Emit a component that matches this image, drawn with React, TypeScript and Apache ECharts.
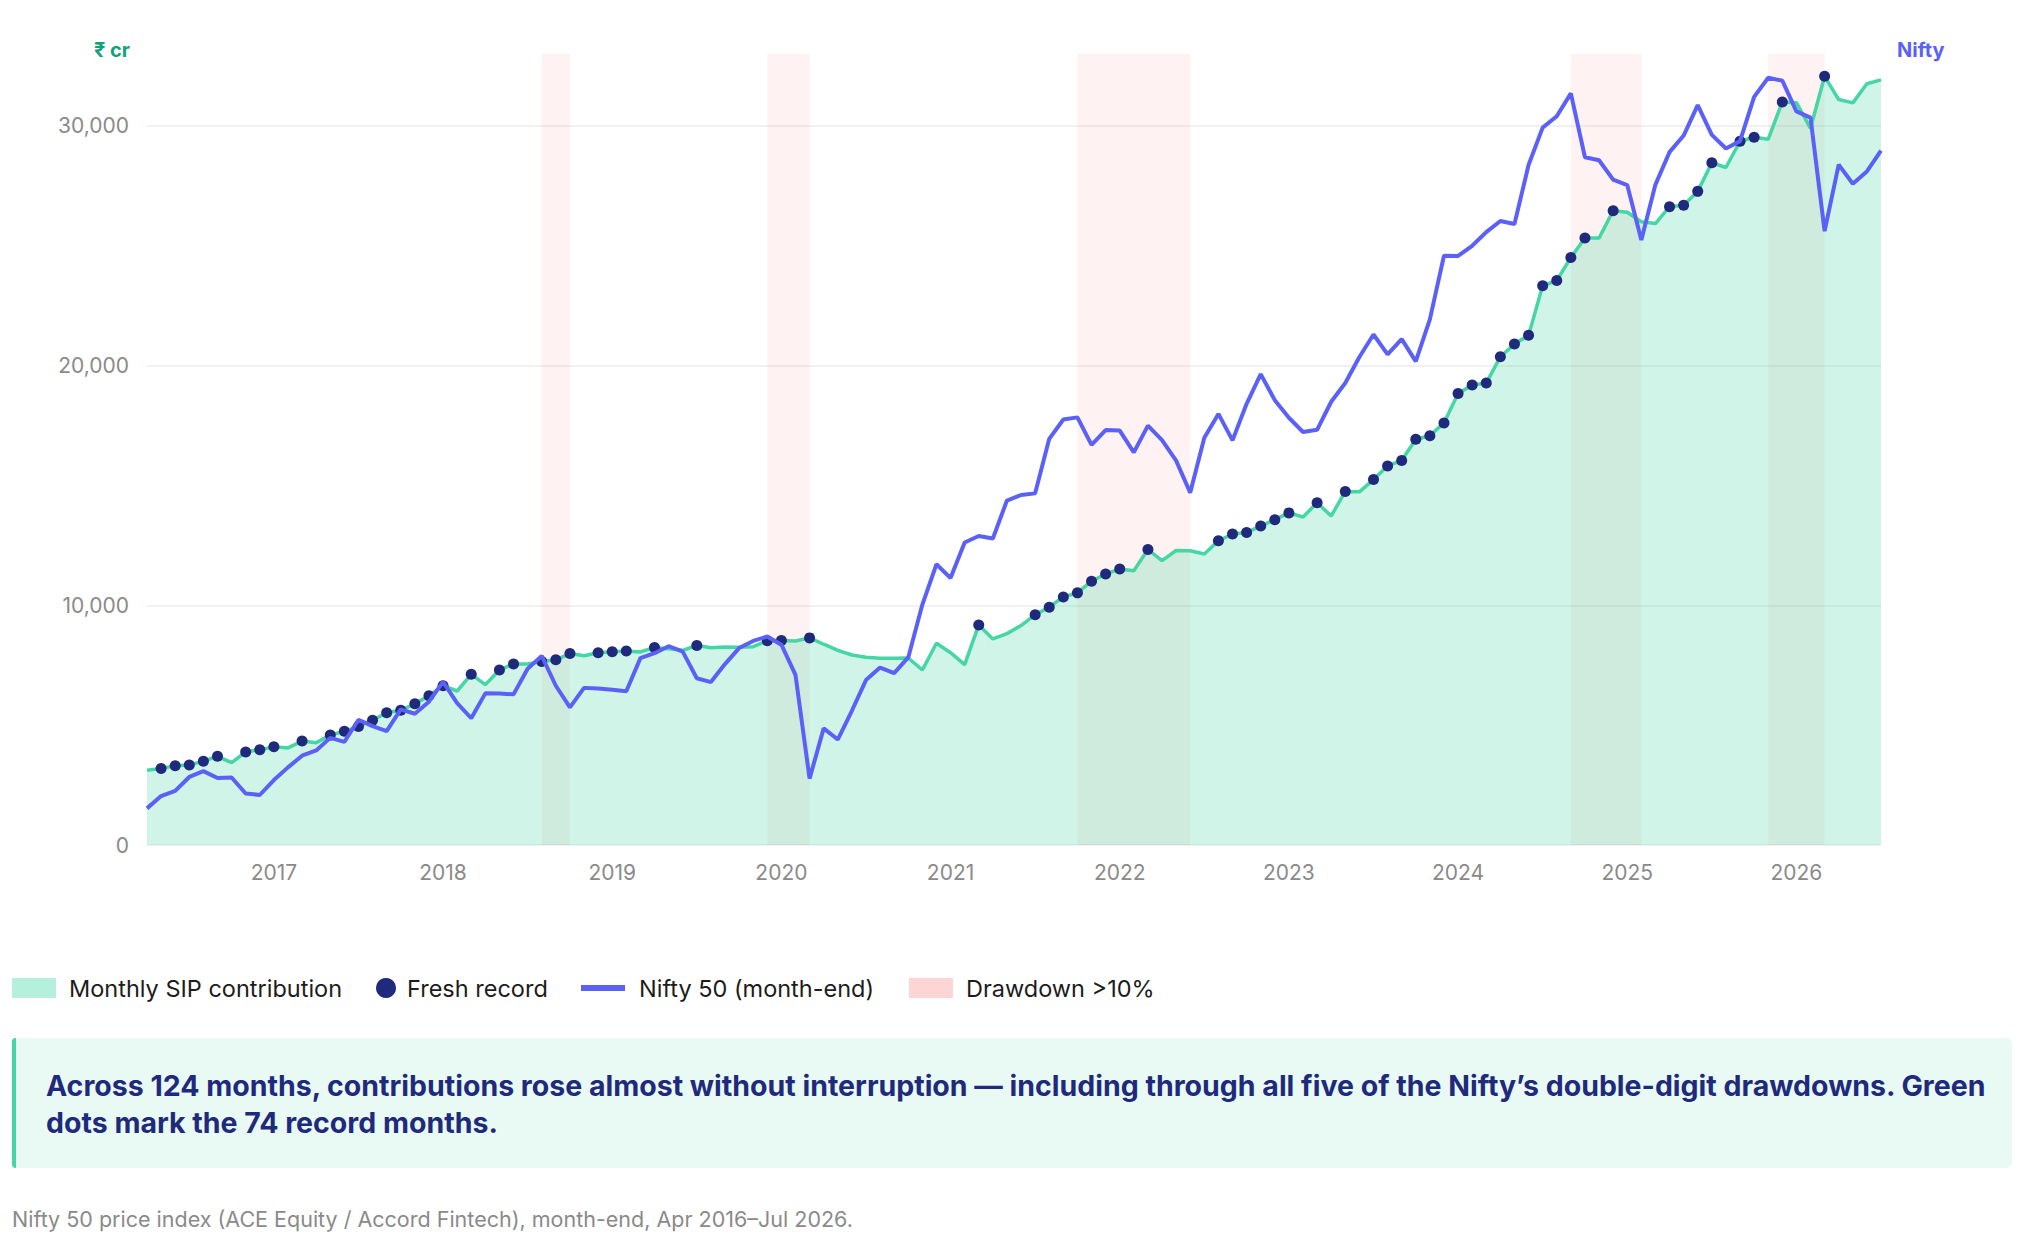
import React, { useEffect, useRef } from 'react';
import * as echarts from 'echarts';

// months Apr 2016 .. Jul 2026, keyed "YYYY-MM"
const FIRST_YEAR = 2016;
const FIRST_MONTH = 4;
const MONTH_COUNT = 124;
const months: string[] = [];
for (let i = 0; i < MONTH_COUNT; i++) {
  const m = FIRST_MONTH - 1 + i;
  months.push(`${FIRST_YEAR + Math.floor(m / 12)}-${String((m % 12) + 1).padStart(2, '0')}`);
}

// year labels shown under the January of each year
const yearTicks = ['2017', '2018', '2019', '2020', '2021', '2022', '2023', '2024', '2025', '2026'];

// monthly SIP contribution, ₹ crore
const sipContribution = [
  3122, 3189, 3310, 3334, 3497, 3698, 3434, 3884, 3973,
  4095, 4050, 4335, 4269, 4584, 4744, 4947, 5206, 5516, 5621, 5893, 6222,
  6644, 6425, 7119, 6690, 7304, 7554, 7554, 7658, 7727, 7985, 7897, 8022,
  8064, 8095, 8055, 8238, 8183, 8122, 8324, 8231, 8263, 8246, 8273, 8518,
  8532, 8513, 8641, 8376, 8123, 7927, 7831, 7792, 7788, 7800, 7302, 8418,
  8023, 7528, 9182, 8596, 8819, 9156, 9609, 9923, 10351, 10519, 11005, 11305,
  11517, 11438, 12328, 11863, 12286, 12276, 12140, 12693, 12976, 13041, 13306, 13573,
  13856, 13686, 14276, 13728, 14749, 14734, 15245, 15814, 16042, 16928, 17073, 17610,
  18838, 19187, 19271, 20371, 20904, 21262, 23332, 23547, 24509, 25323, 25320, 26459,
  26400, 25999, 25926, 26632, 26688, 27269, 28464, 28265, 29361, 29529, 29445, 31002,
  30970, 29900, 32070, 31100, 30960, 31760, 31920,
];

// Nifty 50 month-end close
const nifty = [
  7850, 8160, 8288, 8639, 8786, 8611, 8626, 8224, 8186,
  8561, 8880, 9174, 9304, 9621, 9521, 10077, 9918, 9789, 10335, 10227, 10531,
  11028, 10493, 10114, 10739, 10736, 10714, 11357, 11681, 10930, 10387, 10877, 10863,
  10831, 10793, 11624, 11748, 11923, 11789, 11118, 11023, 11474, 11877, 12056, 12168,
  11962, 11202, 8598, 9860, 9580, 10302, 11073, 11388, 11248, 11642, 12969, 13982,
  13635, 14529, 14691, 14631, 15583, 15722, 15763, 17132, 17618, 17672, 16983, 17354,
  17340, 16794, 17465, 17103, 16585, 15780, 17158, 17759, 17094, 18012, 18758, 18105,
  17662, 17304, 17360, 18065, 18534, 19189, 19754, 19254, 19638, 19080, 20133, 21731,
  21726, 21983, 22327, 22605, 22531, 24011, 24951, 25236, 25811, 24205, 24131, 23645,
  23508, 22125, 23519, 24334, 24751, 25517, 24768, 24427, 24611, 25722, 26203, 26130,
  25360, 25200, 22350, 24020, 23540, 23850, 24370,
];

// Nifty falls of more than 10%, peak month to trough month
const drawdowns = [
  ['2018-08', '2018-10'],
  ['2019-12', '2020-03'],
  ['2021-10', '2022-06'],
  ['2024-09', '2025-02'],
  ['2025-11', '2026-03'],
];

// a month is a fresh record when it beats every earlier month
const records: [string, number][] = [];
let best = sipContribution[0];
sipContribution.forEach((v, i) => {
  if (i > 0 && v > best) records.push([months[i], v]);
  best = Math.max(best, v);
});

const FONT = 'Inter, "Noto Sans", sans-serif';
const GREEN = '#45d6a5';
const NAVY = '#1f2a7c';
const BLUE = '#5b61f6';
const GREY = '#8a8a8a';

const legendItem = (name: string, left: number, icon: string, color: string, w: number, h: number, gap: number) => ({
  left,
  top: 976,
  padding: 0,
  itemWidth: w,
  itemHeight: h,
  textStyle: { fontSize: 23.5, color: '#1c1c1c', fontFamily: FONT, padding: [0, 0, 0, gap] },
  data: [{ name, icon, itemStyle: { color, borderWidth: 0, opacity: 1 } }],
});

const App: React.FC = () => {
  const chartRef = useRef<HTMLDivElement>(null);

  useEffect(() => {
    document.body.style.margin = '0';
    const chart = echarts.init(chartRef.current!, null, { renderer: 'svg' });

    const option = {
      animation: false,
      textStyle: { fontFamily: FONT },
      grid: { left: 147, right: 141, top: 54, bottom: 403 },
      tooltip: { trigger: 'axis' },
      legend: [
        legendItem('Monthly SIP contribution', 12, 'rect', '#b4f0dc', 44, 20, 8),
        legendItem('Fresh record', 376, 'circle', NAVY, 20, 20, 6),
        legendItem('Nifty 50 (month-end)', 581, 'rect', BLUE, 44, 6, 9),
        legendItem('Drawdown >10%', 909, 'rect', '#fdd5d5', 44, 20, 8),
      ],
      xAxis: {
        type: 'category',
        data: months,
        boundaryGap: false,
        axisLine: { show: false },
        axisTick: { show: false },
        splitLine: { show: false },
        axisLabel: {
          interval: (_: number, v: string) => v.endsWith('-01') && yearTicks.includes(v.slice(0, 4)),
          formatter: (v: string) => v.slice(0, 4),
          color: GREY,
          fontSize: 21,
          margin: 17,
        },
      },
      yAxis: [
        {
          type: 'value',
          min: 0,
          max: 33000,
          interval: 10000,
          name: '₹ cr',
          nameLocation: 'end',
          nameGap: 4,
          nameTextStyle: {
            color: '#12a37b',
            fontWeight: 'bold',
            fontSize: 20,
            align: 'right',
            verticalAlign: 'middle',
            padding: [0, 17, 0, 0],
          },
          axisLine: { show: false },
          axisTick: { show: false },
          axisLabel: {
            color: GREY,
            fontSize: 21,
            margin: 18,
            showMaxLabel: false,
            formatter: (v: number) => v.toLocaleString('en-US'),
          },
          splitLine: { showMaxLine: false, lineStyle: { color: '#ececec', width: 1.5 } },
        },
        {
          type: 'value',
          position: 'right',
          min: 6930,
          max: 26800,
          name: 'Nifty',
          nameLocation: 'end',
          nameGap: 4,
          nameTextStyle: {
            color: BLUE,
            fontWeight: 'bold',
            fontSize: 20,
            align: 'left',
            verticalAlign: 'middle',
            padding: [0, 0, 0, 16],
          },
          axisLine: { show: false },
          axisTick: { show: false },
          axisLabel: { show: false },
          splitLine: { show: false },
        },
      ],
      series: [
        {
          name: 'Drawdown >10%',
          type: 'line',
          z: 1,
          data: [],
          itemStyle: { color: '#fdd5d5' },
          markArea: {
            silent: true,
            itemStyle: { color: 'rgba(239,68,68,0.07)', opacity: 1 },
            data: drawdowns.map(([from, to]) => [{ xAxis: from }, { xAxis: to }]),
          },
        },
        {
          name: 'Monthly SIP contribution',
          type: 'line',
          z: 2,
          data: sipContribution,
          symbol: 'none',
          itemStyle: { color: GREEN },
          lineStyle: { color: GREEN, width: 3.5 },
          areaStyle: { color: GREEN, opacity: 0.25 },
        },
        {
          name: 'Fresh record',
          type: 'scatter',
          z: 4,
          data: records,
          symbolSize: 11,
          itemStyle: { color: NAVY, opacity: 1 },
        },
        {
          name: 'Nifty 50 (month-end)',
          type: 'line',
          z: 5,
          yAxisIndex: 1,
          data: nifty,
          symbol: 'none',
          itemStyle: { color: BLUE },
          lineStyle: { color: BLUE, width: 4 },
        },
      ],
      graphic: [
        {
          type: 'rect',
          shape: { x: 12, y: 1038, width: 2000, height: 130, r: [0, 6, 6, 0] },
          style: { fill: '#e8faf3' },
        },
        {
          type: 'rect',
          shape: { x: 12, y: 1038, width: 4, height: 130, r: [4, 0, 0, 4] },
          style: { fill: GREEN },
        },
        {
          type: 'text',
          x: 46,
          y: 1067,
          style: {
            text:
              `Across ${months.length} months, contributions rose almost without interruption — including through all five of the Nifty’s double-digit drawdowns. Green\n` +
              `dots mark the ${records.length} record months.`,
            fill: NAVY,
            fontFamily: FONT,
            fontWeight: 'bold',
            fontSize: 28.5,
            lineHeight: 37,
            verticalAlign: 'top',
          },
        },
        {
          type: 'text',
          x: 12,
          y: 1219,
          style: {
            text: 'Nifty 50 price index (ACE Equity / Accord Fintech), month-end, Apr 2016–Jul 2026.',
            fill: GREY,
            fontFamily: FONT,
            fontSize: 21.5,
            verticalAlign: 'middle',
          },
        },
      ],
    };

    chart.setOption(option);
    const onResize = () => chart.resize();
    window.addEventListener('resize', onResize);
    return () => {
      window.removeEventListener('resize', onResize);
      chart.dispose();
    };
  }, []);

  return <div ref={chartRef} style={{ width: 2022, height: 1248 }} />;
};

export default App;
